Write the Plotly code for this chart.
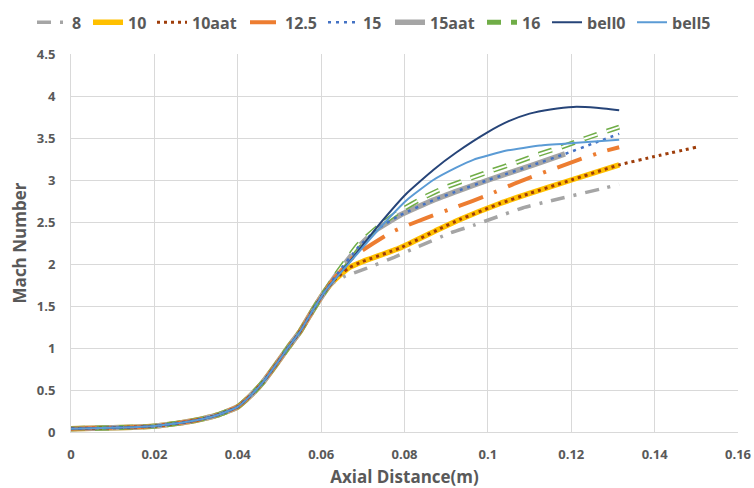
import plotly.graph_objects as go

# common trunk (all series overlap here)
trunk_x = [0, 0.005, 0.01, 0.015, 0.02, 0.025, 0.03, 0.035, 0.04, 0.043, 0.046, 0.049, 0.052, 0.055, 0.058, 0.061]
trunk_y = [0.04, 0.045, 0.05, 0.058, 0.07, 0.10, 0.14, 0.20, 0.30, 0.43, 0.59, 0.79, 1.00, 1.20, 1.45, 1.68]

b8_x = [0.063, 0.0655, 0.071, 0.0775, 0.0825, 0.091, 0.0965, 0.1085, 0.114, 0.1285, 0.1315]
b8_y = [1.78, 1.85, 1.95, 2.08, 2.19, 2.37, 2.46, 2.67, 2.74, 2.91, 2.95]

b10_x = [0.063, 0.0665, 0.07, 0.0789, 0.0885, 0.0933, 0.1029, 0.11, 0.12, 0.1315]
b10_y = [1.80, 1.95, 2.03, 2.19, 2.42, 2.53, 2.72, 2.84, 3.00, 3.18]

b10aat_x = b10_x + [0.14, 0.15]
b10aat_y = b10_y + [3.28, 3.39]

b125_x = [0.063, 0.0681, 0.0769, 0.0853, 0.0925, 0.1, 0.107, 0.1217, 0.1277, 0.1315]
b125_y = [1.82, 2.10, 2.38, 2.55, 2.68, 2.82, 2.97, 3.24, 3.34, 3.39]

b15aat_x = [0.0635, 0.0689, 0.0733, 0.0789, 0.0869, 0.0933, 0.1001, 0.1109, 0.1185]
b15aat_y = [1.86, 2.20, 2.41, 2.58, 2.76, 2.88, 3.00, 3.18, 3.31]

b15_x = b15aat_x + [0.125, 0.1315]
b15_y = b15aat_y + [3.43, 3.55]

b16_x = [0.0635, 0.0689, 0.0741, 0.0789, 0.0845, 0.0897, 0.1009, 0.1069, 0.1125, 0.1181, 0.1237, 0.1297, 0.1315]
b16_y = [1.87, 2.23, 2.46, 2.63, 2.79, 2.91, 3.11, 3.21, 3.31, 3.40, 3.50, 3.60, 3.63]

bell0_x = [0.0635, 0.0669, 0.0741, 0.0805, 0.0869, 0.0925, 0.1, 0.105, 0.11, 0.115, 0.1205, 0.126, 0.1315]
bell0_y = [1.83, 2.03, 2.48, 2.84, 3.12, 3.33, 3.57, 3.70, 3.79, 3.84, 3.87, 3.86, 3.83]

bell5_x = [0.0635, 0.0669, 0.0741, 0.0805, 0.0869, 0.0925, 0.0965, 0.1045, 0.1125, 0.1205, 0.1315]
bell5_y = [1.83, 2.02, 2.43, 2.76, 3.00, 3.15, 3.24, 3.35, 3.41, 3.44, 3.48]

x_ticks = [0, 0.02, 0.04, 0.06, 0.08, 0.1, 0.12, 0.14, 0.16]
y_ticks = [0, 0.5, 1, 1.5, 2, 2.5, 3, 3.5, 4, 4.5]

TEXT = "#595959"
FONT = "Open Sans"

# legend entry left positions (px) for each series, in legend order
legend_names = ["8", "10", "10aat", "12.5", "15", "15aat", "16", "bell0", "bell5"]
legend_left_px = [32, 88, 152, 245, 323, 390, 482, 547, 632]
legend_id = {n: ("legend" if i == 0 else f"legend{i + 1}") for i, n in enumerate(legend_names)}

fig = go.Figure()

def add(name, bx, by, color, width, dash="solid", show=True):
    fig.add_trace(go.Scatter(
        x=trunk_x + bx, y=trunk_y + by, mode="lines", name=name,
        line=dict(color=color, width=width, dash=dash, shape="spline", smoothing=0.4),
        legend=legend_id.get(name, "legend"), showlegend=show, hoverinfo="skip"))

# draw order chosen so overlays match reference
add("10", b10_x, b10_y, "#FFC000", 5.5)
add("15aat", b15aat_x, b15aat_y, "#A5A5A5", 5.5)
add("16", b16_x, b16_y, "#70AD47", 5, dash="14px,10px")
add("16 inner", b16_x, b16_y, "#FFFFFF", 2, dash="14px,10px", show=False)
add("8", b8_x, b8_y, "#A5A5A5", 3.5, dash="14px,9px,3px,9px")
add("12.5", b125_x, b125_y, "#ED7D31", 4, dash="26px,12px,3px,12px")
add("10aat", b10aat_x, b10aat_y, "#9E3D0A", 3, dash="3px,4px")
add("15", b15_x, b15_y, "#4472C4", 2.5, dash="3px,5px")
add("bell0", bell0_x, bell0_y, "#264478", 2)
add("bell5", bell5_x, bell5_y, "#5B9BD5", 2)

legends = {}
for i, n in enumerate(legend_names):
    legends[legend_id[n]] = dict(
        orientation="h", xref="container", yref="container",
        x=legend_left_px[i] / 754, y=0.989, xanchor="left", yanchor="top",
        font=dict(size=16, color=TEXT, family=FONT, weight="bold"),
        itemwidth=30, bgcolor="rgba(0,0,0,0)")

fig.update_layout(
    width=754, height=488,
    margin=dict(l=71, r=16, t=54, b=56),
    paper_bgcolor="white", plot_bgcolor="white",
    font=dict(family=FONT, color=TEXT),
    showlegend=True,
    xaxis=dict(range=[0, 0.16], tickvals=x_ticks, ticktext=[f"{v:g}" for v in x_ticks],
               showgrid=True, gridcolor="#D9D9D9", gridwidth=1,
               showline=True, linecolor="#D9D9D9", zeroline=False, automargin=False,
               tickfont=dict(size=13, color=TEXT, weight="bold"), ticks="", ticklabelstandoff=10,
               title=dict(text="Axial Distance(m)", font=dict(size=17, color=TEXT, weight="bold"), standoff=14)),
    yaxis=dict(range=[0, 4.5], tickvals=y_ticks, ticktext=[f"{v:g}" for v in y_ticks],
               showgrid=True, gridcolor="#D9D9D9", gridwidth=1,
               showline=True, linecolor="#D9D9D9", zeroline=False, automargin=False,
               tickfont=dict(size=13, color=TEXT, weight="bold"), ticks="", ticklabelstandoff=12,
               title=dict(text="Mach Number", font=dict(size=17, color=TEXT, weight="bold"), standoff=5)),
    **legends,
)

fig.write_html("out.html")
